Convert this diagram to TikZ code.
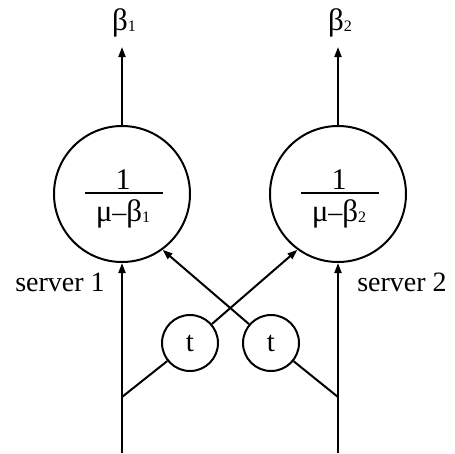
\documentclass[tikz,border=0pt]{standalone}
\usepackage{fontspec}
\setmainfont{Liberation Serif}
\usetikzlibrary{arrows.meta}
\newcommand{\subone}[1]{\raisebox{-1.5pt}{\fontsize{16}{16}\selectfont #1}}
\newcommand{\gk}[1]{{\fontsize{31}{31}\selectfont #1}}
\tikzset{
  big/.style={draw, circle, line width=2pt, minimum size=136pt, inner sep=0pt},
  small/.style={draw, circle, line width=2pt, minimum size=56pt, inner sep=0pt, font=\fontsize{29}{29}\selectfont},
  conn/.style={line width=2pt},
  arr/.style={line width=2pt, -{Triangle[length=10pt,width=7pt]}},
  lbl/.style={font=\fontsize{28}{28}\selectfont, inner sep=0pt},
}
\begin{document}
\begin{tikzpicture}[x=1pt,y=-1pt]
\useasboundingbox (0,0) rectangle (455,453);
% servers
\node[big] (c1) at (122,194) {};
\node[big] (c2) at (338,194) {};
% timers
\node[small] (t1) at (190,343) {t};
\node[small] (t2) at (271,343) {t};
% coordinates
\coordinate (s1) at (122,453);
\coordinate (s2) at (338,453);
\coordinate (b1) at (122,397);
\coordinate (b2) at (338,397);
\coordinate (o1) at (122,47);
\coordinate (o2) at (338,47);
% labels
\node[lbl, anchor=base] (beta1) at (124,30) {\gk{β}\subone{1}};
\node[lbl, anchor=base] (beta2) at (340,30) {\gk{β}\subone{2}};
\node[lbl] (sv1) at (60,282) {server 1};
\node[lbl] (sv2) at (402,282) {server 2};
% fractions
\node[lbl, anchor=base] (n1) at (123,189) {\fontsize{30}{30}\selectfont 1};
\node[lbl, anchor=base] (d1) at (123,221) {\gk{μ}–\gk{β}\subone{1}};
\coordinate (l1a) at (85,193);
\coordinate (l1b) at (163,193);
\draw[line width=1.5pt] (l1a) -- (l1b);
\node[lbl, anchor=base] (n2) at (339,189) {\fontsize{30}{30}\selectfont 1};
\node[lbl, anchor=base] (d2) at (339,221) {\gk{μ}–\gk{β}\subone{2}};
\coordinate (l2a) at (301,193);
\coordinate (l2b) at (379,193);
\draw[line width=1.5pt] (l2a) -- (l2b);
% connectors
\draw[arr] (s1) -- (c1.south);
\draw[arr] (s2) -- (c2.south);
\draw[arr] (c1.north) -- (o1);
\draw[arr] (c2.north) -- (o2);
\draw[conn] (b1) -- (t1);
\draw[conn] (b2) -- (t2);
\draw[arr] (t1) -- (c2.234);
\draw[arr] (t2) -- (c1.306);
\end{tikzpicture}
\end{document}
